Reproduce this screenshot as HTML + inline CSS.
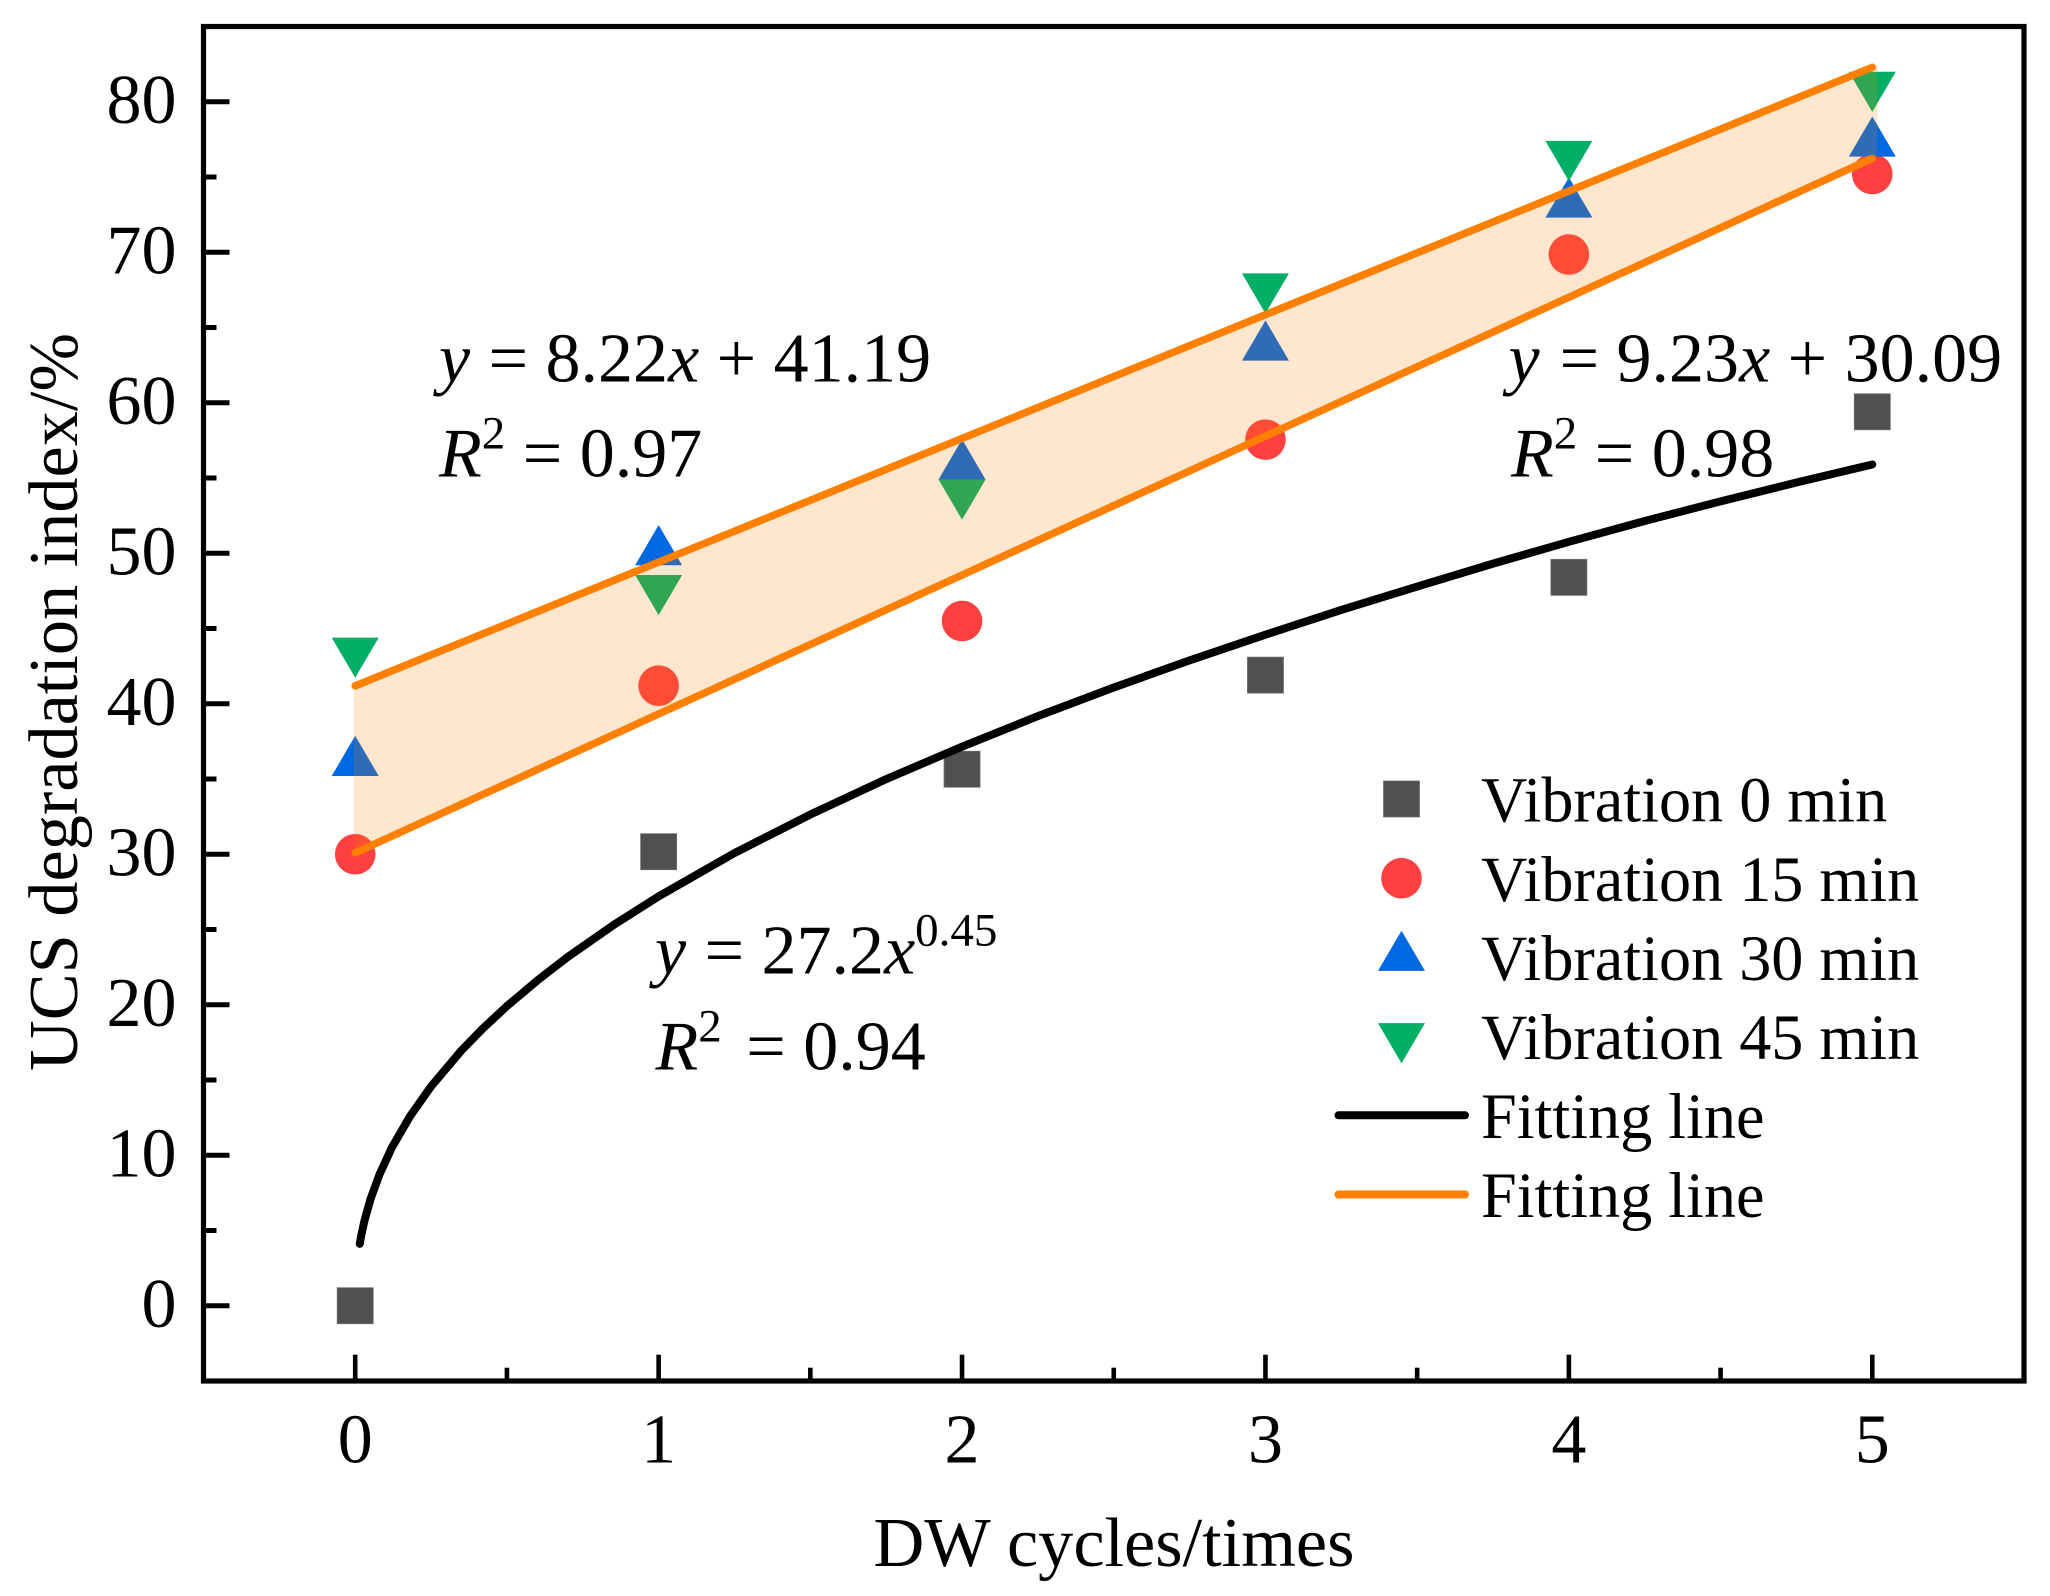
<!DOCTYPE html>
<html lang="en">
<head>
<meta charset="utf-8">
<title>UCS degradation index vs DW cycles</title>
<style>
  html, body { margin: 0; padding: 0; background: #ffffff; }
  svg { display: block; }
  text { font-family: "Liberation Serif", serif; fill: #000; }
</style>
</head>
<body>
<svg id="chart" xmlns="http://www.w3.org/2000/svg" width="2050" height="1596" viewBox="0 0 2050 1596">
  <rect x="0" y="0" width="2050" height="1596" fill="#ffffff"/>
  <g id="points"></g>
  <g id="fits"></g>
  <g id="axes"></g>
  <g id="legend"></g>

  <text x="1114" y="1566" font-size="70.3" text-anchor="middle">DW cycles/times</text>
  <text x="77" y="702" font-size="70.3" text-anchor="middle" transform="rotate(-90 77 702)">UCS degradation index/%</text>

  <text x="439" y="381.7" font-size="70"><tspan font-style="italic">y</tspan><tspan dx="1"> = 8.22</tspan><tspan font-style="italic">x</tspan><tspan> + 41.19</tspan></text>
  <text x="439" y="476.7" font-size="70"><tspan font-style="italic">R</tspan><tspan dy="-28" font-size="47">2</tspan><tspan dy="28"> = 0.97</tspan></text>

  <text x="1508.5" y="381.7" font-size="70"><tspan font-style="italic">y</tspan><tspan dx="2.5"> = 9.23</tspan><tspan font-style="italic">x</tspan><tspan> + 30.09</tspan></text>
  <text x="1511" y="476.7" font-size="70"><tspan font-style="italic">R</tspan><tspan dy="-28" font-size="47">2</tspan><tspan dy="28"> = 0.98</tspan></text>

  <text x="655" y="973.3" font-size="70"><tspan font-style="italic">y</tspan><tspan dx="1"> = 27.2</tspan><tspan font-style="italic">x</tspan><tspan dy="-28" font-size="47">0.45</tspan></text>
  <text x="655.5" y="1069.3" font-size="70"><tspan font-style="italic">R</tspan><tspan dy="-28" font-size="47">2</tspan><tspan dy="28" dx="7"> = 0.94</tspan></text>
</svg>

<script>
// ---- chart data ----
var cycles = [0, 1, 2, 3, 4, 5];
var vibration0 = [0, 30.17, 35.65, 41.9, 48.4, 59.4];
var vibration15 = [30.0, 41.2, 45.5, 57.55, 69.85, 75.2];
var vibration30 = [36.1, 50.1, 55.8, 63.7, 73.2, 77.25];
var vibration45 = [43.5, 47.66, 54.0, 67.7, 76.5, 81.1];

var lineX = [0, 5];
var upperFit = [41.19, 82.29];
var lowerFit = [30.09, 76.24];

var bandX = [-0.005, 5.017];
var bandUpper = [41.15, 82.43];
var bandLower = [30.04, 76.4];

var curveX = [0.015, 0.02, 0.03, 0.05, 0.08, 0.12, 0.18, 0.25, 0.35, 0.42, 0.5, 0.6, 0.7, 0.85, 1, 1.25, 1.5, 1.75, 2, 2.25, 2.5, 2.75, 3, 3.25, 3.5, 3.75, 4, 4.25, 4.5, 4.75, 5];
var curveY = [4.11, 4.68, 5.61, 7.06, 8.72, 10.48, 12.57, 14.57, 16.96, 18.41, 19.91, 21.61, 23.17, 25.28, 27.2, 30.08, 32.64, 34.99, 37.15, 39.18, 41.08, 42.88, 44.59, 46.23, 47.79, 49.31, 50.76, 52.14, 53.45, 54.7, 55.9];

var xTickLabels = ["0", "1", "2", "3", "4", "5"];
var xMinorTicks = [0.5, 1.5, 2.5, 3.5, 4.5];
var yTickLabels = ["0", "10", "20", "30", "40", "50", "60", "70", "80"];
var yMinorTicks = [-5, 5, 15, 25, 35, 45, 55, 65, 75];

var legendLabels = ["Vibration 0 min", "Vibration 15 min", "Vibration 30 min", "Vibration 45 min", "Fitting line", "Fitting line"];

// ---- axis functions ----
var xDomain = [-0.5, 5.5];
var yDomain = [-5, 85];
var plotLeft = 203.5, plotRight = 2024, plotTop = 26.5, plotBottom = 1381;
function xs(v) { return plotLeft + (v - xDomain[0]) / (xDomain[1] - xDomain[0]) * (plotRight - plotLeft); }
function ys(v) { return plotBottom - (v - yDomain[0]) / (yDomain[1] - yDomain[0]) * (plotBottom - plotTop); }

var NS = "http://www.w3.org/2000/svg";
function make(tag, attrs, parent) {
  var el = document.createElementNS(NS, tag);
  for (var k in attrs) { el.setAttribute(k, attrs[k]); }
  parent.appendChild(el);
  return el;
}

var COLORS = { square: "#505050", circle: "#ff4040", up: "#0068e0", down: "#00ae66", black: "#000000", orange: "#ff8000" };

function drawSquare(cx, cy, parent) {
  return make("rect", { x: cx - 18, y: cy - 18, width: 36, height: 36, fill: COLORS.square, stroke: "#6e6e6e", "stroke-width": 0.8 }, parent);
}
function drawCircle(cx, cy, parent) {
  return make("circle", { cx: cx, cy: cy, r: 20.3, fill: COLORS.circle }, parent);
}
function drawUp(cx, cy, parent) {
  return make("polygon", { points: (cx) + "," + (cy - 26.7) + " " + (cx + 23.5) + "," + (cy + 13.5) + " " + (cx - 23.5) + "," + (cy + 13.5), fill: COLORS.up }, parent);
}
function drawDown(cx, cy, parent) {
  return make("polygon", { points: (cx) + "," + (cy + 26.7) + " " + (cx + 23.5) + "," + (cy - 13.5) + " " + (cx - 23.5) + "," + (cy - 13.5), fill: COLORS.down }, parent);
}

// ---- series marks ----
var pointsG = document.getElementById("points");
function drawSeries(values, drawer, seriesName) {
  for (var i = 0; i < values.length; i++) {
    var mark = drawer(xs(cycles[i]), ys(values[i]), pointsG);
    
    
  }
}
drawSeries(vibration0, drawSquare, 'vibration-0');
drawSeries(vibration15, drawCircle, 'vibration-15');
drawSeries(vibration30, drawUp, 'vibration-30');
drawSeries(vibration45, drawDown, 'vibration-45');

// ---- band and fit lines ----
var fitsG = document.getElementById("fits");
var bandPoints = xs(bandX[0]) + "," + ys(bandUpper[0]) + " " + xs(bandX[1]) + "," + ys(bandUpper[1]) + " " + xs(bandX[1]) + "," + ys(bandLower[1]) + " " + xs(bandX[0]) + "," + ys(bandLower[0]);
var band = make("polygon", { points: bandPoints, fill: "#ff8000", "fill-opacity": 0.19 }, fitsG);



function drawFit(xArr, yArr, color, width) {
  var pts = [];
  for (var i = 0; i < xArr.length; i++) { pts.push([xs(xArr[i]), ys(yArr[i])]); }
  var d = "M" + pts[0][0] + " " + pts[0][1];
  for (var j = 1; j < pts.length; j++) {
    d += " L" + pts[j][0] + " " + pts[j][1];
  }
  return make("path", { d: d, fill: "none", stroke: color, "stroke-width": width, "stroke-linecap": "round", "stroke-linejoin": "round" }, fitsG);
}
var upperLine = drawFit(lineX, upperFit, COLORS.orange, 7.5);


var lowerLine = drawFit(lineX, lowerFit, COLORS.orange, 7.5);


var powerLine = drawFit(curveX, curveY, COLORS.black, 8);



// ---- axes ----
var axesG = document.getElementById("axes");
var frame = make("rect", { x: plotLeft, y: plotTop, width: plotRight - plotLeft, height: plotBottom - plotTop, fill: "none", stroke: "#000", "stroke-width": 5.2 }, axesG);



for (var xi = 0; xi < xTickLabels.length; xi++) {
  var xPos = xs(Number(xTickLabels[xi]));
  var xTick = make("line", { x1: xPos, x2: xPos, y1: plotBottom, y2: 1354.7, stroke: "#000", "stroke-width": 4.6 }, axesG);
  
  
  var xLabel = make("text", { x: xPos, y: 1462.5, "font-size": 70, "text-anchor": "middle" }, axesG);
  xLabel.textContent = xTickLabels[xi];
  
  
}
for (var xm = 0; xm < xMinorTicks.length; xm++) {
  var xMinor = make("line", { x1: xs(xMinorTicks[xm]), x2: xs(xMinorTicks[xm]), y1: plotBottom, y2: 1367.7, stroke: "#000", "stroke-width": 4.6 }, axesG);
  
  
}
for (var yi = 0; yi < yTickLabels.length; yi++) {
  var yPos = ys(Number(yTickLabels[yi]));
  var yTick = make("line", { x1: plotLeft, x2: 229.5, y1: yPos, y2: yPos, stroke: "#000", "stroke-width": 5 }, axesG);
  
  
  var yLabel = make("text", { x: 176.5, y: yPos + 21, "font-size": 70, "text-anchor": "end" }, axesG);
  yLabel.textContent = yTickLabels[yi];
  
  
}
for (var ym = 0; ym < yMinorTicks.length; ym++) {
  if (yMinorTicks[ym] === yDomain[0]) { continue; }
  var yMinor = make("line", { x1: plotLeft, x2: 216.5, y1: ys(yMinorTicks[ym]), y2: ys(yMinorTicks[ym]), stroke: "#000", "stroke-width": 5 }, axesG);
  
  
}

// ---- legend ----
var legendG = document.getElementById("legend");
var legendDrawers = [drawSquare, drawCircle, drawUp, drawDown, null, null];
var legendLineColors = [null, null, null, null, COLORS.black, COLORS.orange];
for (var li = 0; li < legendLabels.length; li++) {
  var rowY = 799 + li * 79.2;
  var swatch;
  if (legendDrawers[li]) {
    swatch = legendDrawers[li](1401.5, rowY, legendG);
  } else {
    swatch = make("line", { x1: 1338.5, x2: 1465, y1: rowY - 0.5, y2: rowY - 0.5, stroke: legendLineColors[li], "stroke-width": 8, "stroke-linecap": "round" }, legendG);
  }
  
  
  var legendText = make("text", { x: 1481, y: 821.7 + li * 79.05, "font-size": 64.2 }, legendG);
  legendText.textContent = legendLabels[li];
  
  
}
</script>
</body>
</html>
